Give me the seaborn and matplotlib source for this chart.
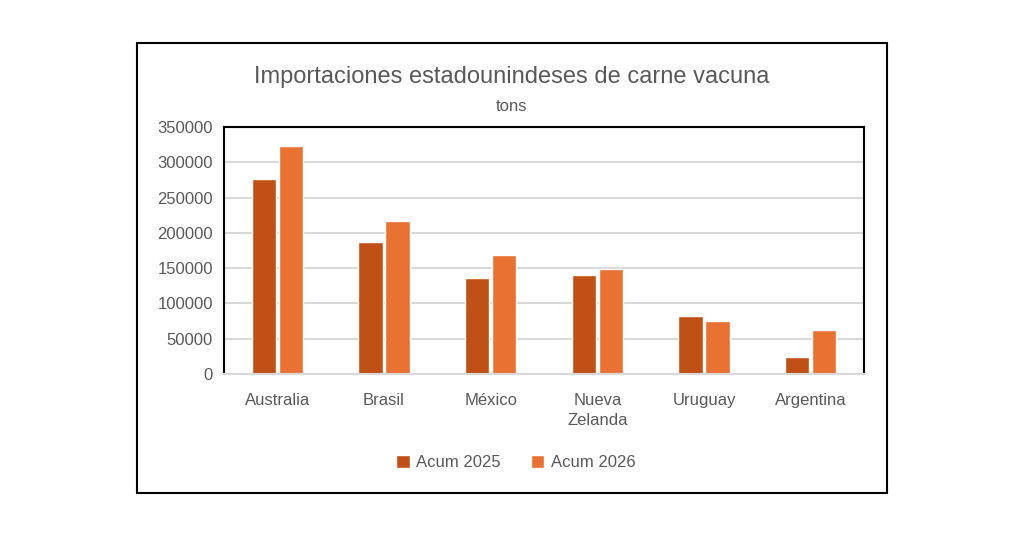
import matplotlib
matplotlib.use("Agg")
import matplotlib.pyplot as plt
import seaborn as sns
import pandas as pd
from matplotlib.patches import Rectangle

paises = ["Australia", "Brasil", "México", "Nueva\nZelanda", "Uruguay", "Argentina"]
acum_2025 = [276000, 187500, 136300, 140600, 82200, 23800]
acum_2026 = [323000, 217500, 169000, 149100, 75000, 62200]
series = ["Acum 2025", "Acum 2026"]
yticks = [0, 50000, 100000, 150000, 200000, 250000, 300000, 350000]

df = pd.DataFrame({
    "pais": paises * 2,
    "serie": [series[0]] * len(paises) + [series[1]] * len(paises),
    "valor": acum_2025 + acum_2026,
})

sns.set_style("white")
plt.rcParams["font.family"] = ["Liberation Sans", "DejaVu Sans"]
gray = "#595959"

fig = plt.figure(figsize=(10.24, 5.35), dpi=100)
ax = fig.add_axes([0.21875, 0.3009, 0.625, 0.4617])

sns.barplot(data=df, x="pais", y="valor", hue="serie",
            palette=["#C05016", "#E97132"], width=0.51, gap=0.11,
            saturation=1, ax=ax, legend=True)

ax.set_ylim(0, 350000)
ax.set_yticks(yticks)
ax.set_yticklabels([str(t) for t in yticks], color=gray, fontsize=12)
ax.set_xticks(range(len(paises)))
ax.set_xticklabels(paises, color=gray, fontsize=12, linespacing=1.4)
ax.tick_params(axis="both", length=0, pad=8)
ax.tick_params(axis="x", pad=14)
ax.set_xlabel("")
ax.set_ylabel("")
ax.yaxis.grid(True, color="#D9D9D9", linewidth=1.5)
ax.set_axisbelow(True)
for side in ["left", "top", "right"]:
    ax.spines[side].set_color("black")
    ax.spines[side].set_linewidth(1.5)
ax.spines["bottom"].set_color("#D9D9D9")
ax.spines["bottom"].set_linewidth(1.5)

handles, labels = ax.get_legend_handles_labels()
ax.get_legend().remove()
fig.legend(handles, labels, loc="center", bbox_to_anchor=(0.504, 0.135),
           ncol=2, frameon=False, fontsize=12, labelcolor=gray,
           handlelength=0.8, handleheight=0.8, handletextpad=0.4,
           columnspacing=1.8)

fig.text(0.5, 0.857, "Importaciones estadounindeses de carne vacuna",
         ha="center", va="center", fontsize=17, color=gray)
fig.text(0.5, 0.801, "tons", ha="center", va="center", fontsize=12,
         color=gray)

fig.patches.append(Rectangle((0.1338, 0.0785), 0.7324, 0.8411,
                             transform=fig.transFigure, fill=False,
                             edgecolor="black", linewidth=1.5))

fig.savefig("out.png", dpi=100)
